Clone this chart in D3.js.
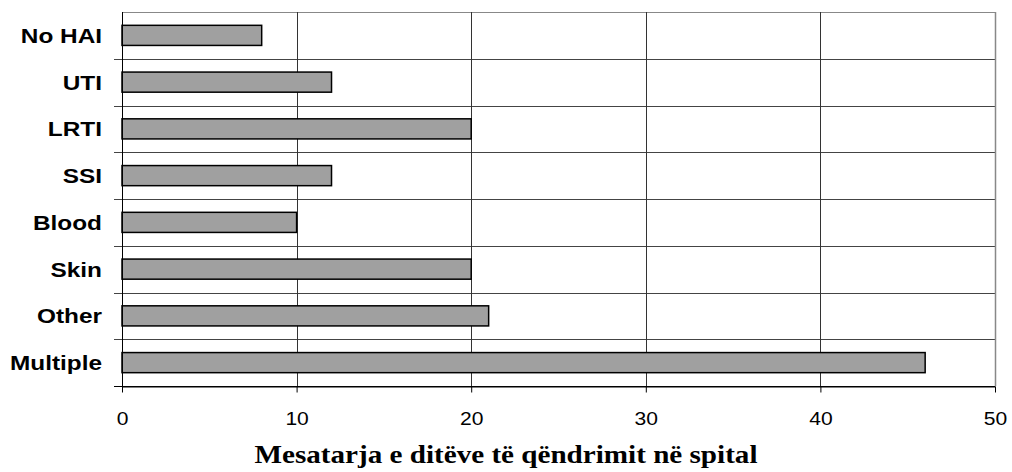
<!DOCTYPE html>
<html>
<head>
<meta charset="utf-8">
<script src="https://cdn.jsdelivr.net/npm/d3@7"></script>
<style>
  body { margin: 0; background: #fff; }
</style>
</head>
<body>
<svg id="chart" width="1012" height="472"></svg>
<script>
var categories = ["No HAI", "UTI", "LRTI", "SSI", "Blood", "Skin", "Other", "Multiple"];
var values = [8, 12, 20, 12, 10, 20, 21, 46];
var xTicks = [0, 10, 20, 30, 40, 50];
var xTitle = "Mesatarja e ditëve të qëndrimit në spital";

var svg = d3.select("#chart"),
    pLeft = 122, pRight = 995, pTop = 12, pBottom = 386;

// the original text is a bit wider than the fonts here
function stretch(sel, k) {
  sel.each(function() {
    var w = this.getComputedTextLength();
    d3.select(this).attr("textLength", w * k).attr("lengthAdjust", "spacingAndGlyphs");
  });
}

var x = d3.scaleLinear().domain([0, 50]).range([pLeft, pRight]);
var y = d3.scaleBand().domain(categories).range([pTop, pBottom]).padding(0);

var barH = y.bandwidth() * 0.43;

// horizontal lines at category boundaries
var bounds = categories.map(function(c) { return y(c); }).concat([pBottom]);
svg.append("g").selectAll("line").data(bounds).enter().append("line")
  .attr("x1", function(d, i) { return i == 0 ? pLeft : pLeft - 8; })
  .attr("x2", pRight)
  .attr("y1", function(d) { return Math.round(d) + 0.5; })
  .attr("y2", function(d) { return Math.round(d) + 0.5; })
  .attr("stroke", function(d, i) { return i == 0 ? "#888" : (i == bounds.length - 1 ? "#000" : "#444"); })
  .attr("stroke-width", 1);

// vertical grid lines
svg.append("g").selectAll("line").data(xTicks.slice(1)).enter().append("line")
  .attr("x1", function(d) { return Math.round(x(d)) + 0.5; })
  .attr("x2", function(d) { return Math.round(x(d)) + 0.5; })
  .attr("y1", pTop).attr("y2", pBottom)
  .attr("stroke", function(d) { return d == 50 ? "#888" : "#333"; })
  .attr("stroke-width", function(d) { return d == 50 ? 1.5 : 1; });

// bars
svg.append("g").selectAll("rect").data(values).enter().append("rect")
  .attr("x", x(0))
  .attr("y", function(d, i) { return y(categories[i]) + (y.bandwidth() - barH) / 2; })
  .attr("width", function(d) { return x(d) - x(0); })
  .attr("height", barH)
  .attr("fill", "#a0a0a0")
  .attr("stroke", "#000")
  .attr("stroke-width", 1.5);

// x axis
var xAxis = svg.append("g")
  .attr("transform", "translate(0," + (pBottom + 0.5) + ")")
  .call(d3.axisBottom(x).tickValues(xTicks).tickSize(6).tickSizeOuter(0).tickPadding(20));
xAxis.select(".domain").attr("stroke", "#000");
xAxis.selectAll(".tick line").attr("stroke", "#000");
xAxis.selectAll("text")
  .attr("font-family", "Liberation Sans, Arial, sans-serif")
  .attr("font-size", 18).attr("fill", "#000")
  .call(stretch, 1.17);

// y axis line
svg.append("line")
  .attr("x1", pLeft + 0.5).attr("x2", pLeft + 0.5).attr("y1", pTop).attr("y2", pBottom + 6)
  .attr("stroke", "#000");

// category labels
svg.append("g").selectAll("text").data(categories).enter().append("text")
  .attr("x", 102)
  .attr("y", function(d) { return y(d) + y.bandwidth() / 2; })
  .attr("dy", "0.36em")
  .attr("text-anchor", "end")
  .attr("font-family", "Liberation Sans, Arial, sans-serif")
  .attr("font-weight", "bold")
  .attr("font-size", 21)
  .text(function(d) { return d; })
  .call(stretch, 1.16);

// axis title
svg.append("text")
  .attr("x", 506)
  .attr("y", 463)
  .attr("text-anchor", "middle")
  .attr("font-family", "Liberation Serif, Times New Roman, serif")
  .attr("font-weight", "bold")
  .attr("font-size", 26)
  .text(xTitle)
  .attr("textLength", 503)
  .attr("lengthAdjust", "spacingAndGlyphs");
</script>
</body>
</html>
